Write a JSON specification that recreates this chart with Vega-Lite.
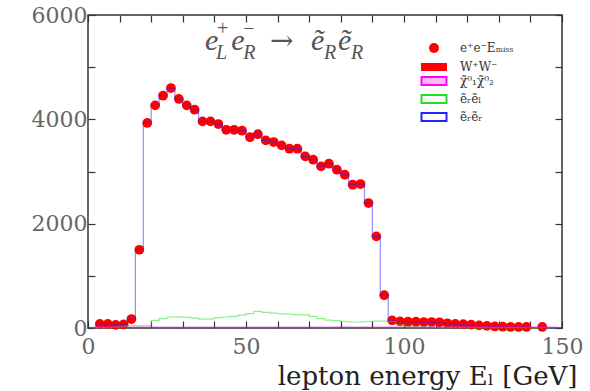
{
  "$schema": "https://vega.github.io/schema/vega-lite/v6.json",
  "autosize": "none",
  "width": 474,
  "height": 313,
  "padding": {"left": 88, "top": 15, "right": 28, "bottom": 63},
  "background": "white",
  "config": {
    "view": {"stroke": "#333", "strokeWidth": 1.5},
    "axis": {"domain": false, "grid": false, "ticks": true, "tickColor": "#333", "tickSize": -7, "tickWidth": 1.2,
      "labelFont": "DejaVu Serif", "labelFontSize": 22, "labelColor": "#666", "labelFlush": false, "labelOverlap": false}
  },
  "resolve": {"axis": {"x": "independent", "y": "independent"}},
  "layer": [
    {
      "data": {"values": [
        {"E": 3.75, "N": 80}, {"E": 6.25, "N": 80}, {"E": 8.75, "N": 60}, {"E": 11.25, "N": 70}, {"E": 13.75, "N": 172},
        {"E": 16.25, "N": 1500}, {"E": 18.75, "N": 3930}, {"E": 21.25, "N": 4267}, {"E": 23.75, "N": 4453}, {"E": 26.25, "N": 4600},
        {"E": 28.75, "N": 4390}, {"E": 31.25, "N": 4267}, {"E": 33.75, "N": 4184}, {"E": 36.25, "N": 3960}, {"E": 38.75, "N": 3960},
        {"E": 41.25, "N": 3910}, {"E": 43.75, "N": 3800}, {"E": 46.25, "N": 3800}, {"E": 48.75, "N": 3782}, {"E": 51.25, "N": 3657},
        {"E": 53.75, "N": 3715}, {"E": 56.25, "N": 3596}, {"E": 58.75, "N": 3565}, {"E": 61.25, "N": 3500}, {"E": 63.75, "N": 3437},
        {"E": 66.25, "N": 3437}, {"E": 68.75, "N": 3289}, {"E": 71.25, "N": 3226}, {"E": 73.75, "N": 3098}, {"E": 76.25, "N": 3149},
        {"E": 78.75, "N": 3034}, {"E": 81.25, "N": 2938}, {"E": 83.75, "N": 2747}, {"E": 86.25, "N": 2760}, {"E": 88.75, "N": 2396},
        {"E": 91.25, "N": 1756}, {"E": 93.75, "N": 629}, {"E": 96.25, "N": 146}, {"E": 98.75, "N": 127}, {"E": 101.25, "N": 121},
        {"E": 103.75, "N": 121}, {"E": 106.25, "N": 115}, {"E": 108.75, "N": 115}, {"E": 111.25, "N": 110}, {"E": 113.75, "N": 90},
        {"E": 116.25, "N": 80}, {"E": 118.75, "N": 75}, {"E": 121.25, "N": 65}, {"E": 123.75, "N": 50}, {"E": 126.25, "N": 40},
        {"E": 128.75, "N": 30}, {"E": 131.25, "N": 25}, {"E": 133.75, "N": 20}, {"E": 136.25, "N": 20}, {"E": 138.75, "N": 20},
        {"E": 143.75, "N": 20}
      ]},
      "transform": [{"calculate": "'e⁺e⁻Eₘᵢₛₛ'", "as": "series"}],
      "mark": {"type": "point", "filled": true, "size": 95, "opacity": 1},
      "encoding": {
        "x": {"field": "E", "type": "quantitative", "scale": {"domain": [0, 150], "nice": false},
          "axis": {"orient": "bottom", "values": [0,10,20,30,40,50,60,70,80,90,100,110,120,130,140,150],
            "labelExpr": "datum.value % 50 == 0 ? datum.label : ''", "labelPadding": 15,
            "title": "lepton energy Eₗ  [GeV]", "titleFont": "DejaVu Serif", "titleFontSize": 26, "titleFontWeight": "normal",
            "titleColor": "#222", "titleX": 489, "titleY": 56, "titleAlign": "right", "titleBaseline": "alphabetic", "titleAngle": 0}},
        "y": {"field": "N", "type": "quantitative", "scale": {"domain": [0, 6000], "nice": false},
          "axis": {"orient": "left", "values": [0,1000,2000,3000,4000,5000,6000], "format": "d",
            "labelExpr": "datum.value % 2000 == 0 ? datum.label : ''", "labelPadding": 8, "title": null}},
        "fill": {"field": "series", "type": "nominal",
          "scale": {"domain": ["e⁺e⁻Eₘᵢₛₛ", "W⁺W⁻"], "range": ["#ff0000", "#ff0000"]},
          "legend": {"title": null, "orient": "none", "legendX": 340, "legendY": 27, "padding": 0, "symbolSize": 100,
            "labelFont": "DejaVu Serif", "labelFontSize": 12, "labelColor": "#333", "labelOffset": 20, "rowPadding": 4}},
        "shape": {"field": "series", "type": "nominal",
          "scale": {"domain": ["e⁺e⁻Eₘᵢₛₛ", "W⁺W⁻"], "range": ["circle", "M-2.6,-0.8H2.6V0.8H-2.6Z"]},
          "legend": {"title": null, "orient": "none", "legendX": 340, "legendY": 27, "padding": 0, "symbolSize": 100,
            "labelFont": "DejaVu Serif", "labelFontSize": 12, "labelColor": "#333", "labelOffset": 20, "rowPadding": 4}}
      }
    },
    {
      "data": {"values": [
        {"series": "ẽᵣẽᵣ", "E": 1.25, "N": 0}, {"series": "ẽᵣẽᵣ", "E": 3.75, "N": 80}, {"series": "ẽᵣẽᵣ", "E": 6.25, "N": 80},
        {"series": "ẽᵣẽᵣ", "E": 8.75, "N": 60}, {"series": "ẽᵣẽᵣ", "E": 11.25, "N": 70}, {"series": "ẽᵣẽᵣ", "E": 13.75, "N": 172},
        {"series": "ẽᵣẽᵣ", "E": 16.25, "N": 1500}, {"series": "ẽᵣẽᵣ", "E": 18.75, "N": 3930}, {"series": "ẽᵣẽᵣ", "E": 21.25, "N": 4267},
        {"series": "ẽᵣẽᵣ", "E": 23.75, "N": 4453}, {"series": "ẽᵣẽᵣ", "E": 26.25, "N": 4600}, {"series": "ẽᵣẽᵣ", "E": 28.75, "N": 4390},
        {"series": "ẽᵣẽᵣ", "E": 31.25, "N": 4267}, {"series": "ẽᵣẽᵣ", "E": 33.75, "N": 4184}, {"series": "ẽᵣẽᵣ", "E": 36.25, "N": 3960},
        {"series": "ẽᵣẽᵣ", "E": 38.75, "N": 3960}, {"series": "ẽᵣẽᵣ", "E": 41.25, "N": 3910}, {"series": "ẽᵣẽᵣ", "E": 43.75, "N": 3800},
        {"series": "ẽᵣẽᵣ", "E": 46.25, "N": 3800}, {"series": "ẽᵣẽᵣ", "E": 48.75, "N": 3782}, {"series": "ẽᵣẽᵣ", "E": 51.25, "N": 3657},
        {"series": "ẽᵣẽᵣ", "E": 53.75, "N": 3715}, {"series": "ẽᵣẽᵣ", "E": 56.25, "N": 3596}, {"series": "ẽᵣẽᵣ", "E": 58.75, "N": 3565},
        {"series": "ẽᵣẽᵣ", "E": 61.25, "N": 3500}, {"series": "ẽᵣẽᵣ", "E": 63.75, "N": 3437}, {"series": "ẽᵣẽᵣ", "E": 66.25, "N": 3437},
        {"series": "ẽᵣẽᵣ", "E": 68.75, "N": 3289}, {"series": "ẽᵣẽᵣ", "E": 71.25, "N": 3226}, {"series": "ẽᵣẽᵣ", "E": 73.75, "N": 3098},
        {"series": "ẽᵣẽᵣ", "E": 76.25, "N": 3149}, {"series": "ẽᵣẽᵣ", "E": 78.75, "N": 3034}, {"series": "ẽᵣẽᵣ", "E": 81.25, "N": 2938},
        {"series": "ẽᵣẽᵣ", "E": 83.75, "N": 2747}, {"series": "ẽᵣẽᵣ", "E": 86.25, "N": 2760}, {"series": "ẽᵣẽᵣ", "E": 88.75, "N": 2396},
        {"series": "ẽᵣẽᵣ", "E": 91.25, "N": 1756}, {"series": "ẽᵣẽᵣ", "E": 93.75, "N": 629}, {"series": "ẽᵣẽᵣ", "E": 96.25, "N": 140},
        {"series": "ẽᵣẽᵣ", "E": 98.75, "N": 120}, {"series": "ẽᵣẽᵣ", "E": 101.25, "N": 115}, {"series": "ẽᵣẽᵣ", "E": 103.75, "N": 115},
        {"series": "ẽᵣẽᵣ", "E": 106.25, "N": 110}, {"series": "ẽᵣẽᵣ", "E": 108.75, "N": 108}, {"series": "ẽᵣẽᵣ", "E": 111.25, "N": 100},
        {"series": "ẽᵣẽᵣ", "E": 113.75, "N": 80}, {"series": "ẽᵣẽᵣ", "E": 116.25, "N": 72}, {"series": "ẽᵣẽᵣ", "E": 118.75, "N": 66},
        {"series": "ẽᵣẽᵣ", "E": 121.25, "N": 55}, {"series": "ẽᵣẽᵣ", "E": 123.75, "N": 42}, {"series": "ẽᵣẽᵣ", "E": 126.25, "N": 33},
        {"series": "ẽᵣẽᵣ", "E": 128.75, "N": 25}, {"series": "ẽᵣẽᵣ", "E": 131.25, "N": 20}, {"series": "ẽᵣẽᵣ", "E": 133.75, "N": 15},
        {"series": "ẽᵣẽᵣ", "E": 136.25, "N": 15}, {"series": "ẽᵣẽᵣ", "E": 138.75, "N": 15}, {"series": "ẽᵣẽᵣ", "E": 141.25, "N": 10},
        {"series": "ẽᵣẽᵣ", "E": 143.75, "N": 15}, {"series": "ẽᵣẽᵣ", "E": 146.25, "N": 0}, {"series": "ẽᵣẽᵣ", "E": 148.75, "N": 0},
        {"series": "ẽᵣẽₗ", "E": 1.25, "N": 0}, {"series": "ẽᵣẽₗ", "E": 3.75, "N": 10}, {"series": "ẽᵣẽₗ", "E": 6.25, "N": 10},
        {"series": "ẽᵣẽₗ", "E": 8.75, "N": 15}, {"series": "ẽᵣẽₗ", "E": 11.25, "N": 30}, {"series": "ẽᵣẽₗ", "E": 13.75, "N": 40},
        {"series": "ẽᵣẽₗ", "E": 16.25, "N": 40}, {"series": "ẽᵣẽₗ", "E": 18.75, "N": 45}, {"series": "ẽᵣẽₗ", "E": 21.25, "N": 146},
        {"series": "ẽᵣẽₗ", "E": 23.75, "N": 180}, {"series": "ẽᵣẽₗ", "E": 26.25, "N": 211}, {"series": "ẽᵣẽₗ", "E": 28.75, "N": 215},
        {"series": "ẽᵣẽₗ", "E": 31.25, "N": 205}, {"series": "ẽᵣẽₗ", "E": 33.75, "N": 190}, {"series": "ẽᵣẽₗ", "E": 36.25, "N": 172},
        {"series": "ẽᵣẽₗ", "E": 38.75, "N": 175}, {"series": "ẽᵣẽₗ", "E": 41.25, "N": 200}, {"series": "ẽᵣẽₗ", "E": 43.75, "N": 211},
        {"series": "ẽᵣẽₗ", "E": 46.25, "N": 224}, {"series": "ẽᵣẽₗ", "E": 48.75, "N": 245}, {"series": "ẽᵣẽₗ", "E": 51.25, "N": 275},
        {"series": "ẽᵣẽₗ", "E": 53.75, "N": 318}, {"series": "ẽᵣẽₗ", "E": 56.25, "N": 300}, {"series": "ẽᵣẽₗ", "E": 58.75, "N": 285},
        {"series": "ẽᵣẽₗ", "E": 61.25, "N": 270}, {"series": "ẽᵣẽₗ", "E": 63.75, "N": 265}, {"series": "ẽᵣẽₗ", "E": 66.25, "N": 258},
        {"series": "ẽᵣẽₗ", "E": 68.75, "N": 250}, {"series": "ẽᵣẽₗ", "E": 71.25, "N": 222}, {"series": "ẽᵣẽₗ", "E": 73.75, "N": 180},
        {"series": "ẽᵣẽₗ", "E": 76.25, "N": 150}, {"series": "ẽᵣẽₗ", "E": 78.75, "N": 140}, {"series": "ẽᵣẽₗ", "E": 81.25, "N": 125},
        {"series": "ẽᵣẽₗ", "E": 83.75, "N": 115}, {"series": "ẽᵣẽₗ", "E": 86.25, "N": 115}, {"series": "ẽᵣẽₗ", "E": 88.75, "N": 125},
        {"series": "ẽᵣẽₗ", "E": 91.25, "N": 130}, {"series": "ẽᵣẽₗ", "E": 93.75, "N": 130}, {"series": "ẽᵣẽₗ", "E": 96.25, "N": 125},
        {"series": "ẽᵣẽₗ", "E": 98.75, "N": 60}, {"series": "ẽᵣẽₗ", "E": 101.25, "N": 30}, {"series": "ẽᵣẽₗ", "E": 103.75, "N": 20},
        {"series": "ẽᵣẽₗ", "E": 113.75, "N": 12}, {"series": "ẽᵣẽₗ", "E": 126.25, "N": 8}, {"series": "ẽᵣẽₗ", "E": 148.75, "N": 5},
        {"series": "χ̃⁰₁χ̃⁰₂", "E": 1.25, "N": 15}, {"series": "χ̃⁰₁χ̃⁰₂", "E": 51.25, "N": 15}, {"series": "χ̃⁰₁χ̃⁰₂", "E": 101.25, "N": 15},
        {"series": "χ̃⁰₁χ̃⁰₂", "E": 148.75, "N": 15}
      ]},
      "mark": {"type": "line", "interpolate": "step", "strokeWidth": 1.2, "strokeOpacity": 0.5},
      "encoding": {
        "x": {"field": "E", "type": "quantitative", "scale": {"domain": [0, 150], "nice": false},
          "axis": {"orient": "top", "values": [0,10,20,30,40,50,60,70,80,90,100,110,120,130,140,150], "labels": false, "title": null}},
        "y": {"field": "N", "type": "quantitative", "scale": {"domain": [0, 6000], "nice": false},
          "axis": {"orient": "right", "values": [0,1000,2000,3000,4000,5000,6000], "labels": false, "title": null}},
        "stroke": {"field": "series", "type": "nominal",
          "scale": {"domain": ["χ̃⁰₁χ̃⁰₂", "ẽᵣẽₗ", "ẽᵣẽᵣ"], "range": ["#ff00ff", "#22dd22", "#2222ff"]},
          "legend": {"title": null, "orient": "none", "legendX": 340, "legendY": 60, "padding": 0, "symbolSize": 100,
            "symbolType": "M-2.5,-0.8H2.5V0.8H-2.5Z", "symbolStrokeWidth": 2, "symbolOpacity": 1,
            "labelFont": "DejaVu Serif", "labelFontSize": 12, "labelColor": "#333", "labelOffset": 20, "rowPadding": 2,
            "encode": {"symbols": {"update": {"strokeOpacity": {"value": 1},
              "fill": {"signal": "datum.value === 'χ̃⁰₁χ̃⁰₂' ? '#ffb8f0' : 'transparent'"}}}}}}
      }
    },
    {"data": {"values": [{}]}, "mark": {"type": "text", "text": "e", "font": "Liberation Serif", "fontStyle": "italic", "fontSize": 30, "align": "left", "baseline": "alphabetic", "color": "#555"},
      "encoding": {"x": {"datum": 37.0, "type": "quantitative", "axis": null}, "y": {"datum": 5335, "type": "quantitative", "axis": null}}},
    {"data": {"values": [{}]}, "mark": {"type": "text", "text": "+", "font": "Liberation Serif", "fontSize": 20, "align": "left", "baseline": "alphabetic", "color": "#555"},
      "encoding": {"x": {"datum": 40.8, "type": "quantitative", "axis": null}, "y": {"datum": 5620, "type": "quantitative", "axis": null}}},
    {"data": {"values": [{}]}, "mark": {"type": "text", "text": "L", "font": "Liberation Serif", "fontStyle": "italic", "fontSize": 20, "align": "left", "baseline": "alphabetic", "color": "#555"},
      "encoding": {"x": {"datum": 40.5, "type": "quantitative", "axis": null}, "y": {"datum": 5160, "type": "quantitative", "axis": null}}},
    {"data": {"values": [{}]}, "mark": {"type": "text", "text": "e", "font": "Liberation Serif", "fontStyle": "italic", "fontSize": 30, "align": "left", "baseline": "alphabetic", "color": "#555"},
      "encoding": {"x": {"datum": 45.3, "type": "quantitative", "axis": null}, "y": {"datum": 5335, "type": "quantitative", "axis": null}}},
    {"data": {"values": [{}]}, "mark": {"type": "text", "text": "−", "font": "Liberation Serif", "fontSize": 20, "align": "left", "baseline": "alphabetic", "color": "#555"},
      "encoding": {"x": {"datum": 49.1, "type": "quantitative", "axis": null}, "y": {"datum": 5620, "type": "quantitative", "axis": null}}},
    {"data": {"values": [{}]}, "mark": {"type": "text", "text": "R", "font": "Liberation Serif", "fontStyle": "italic", "fontSize": 20, "align": "left", "baseline": "alphabetic", "color": "#555"},
      "encoding": {"x": {"datum": 49.1, "type": "quantitative", "axis": null}, "y": {"datum": 5160, "type": "quantitative", "axis": null}}},
    {"data": {"values": [{}]}, "mark": {"type": "text", "text": "→", "font": "DejaVu Serif", "fontSize": 28, "align": "left", "baseline": "alphabetic", "color": "#555"},
      "encoding": {"x": {"datum": 57.6, "type": "quantitative", "axis": null}, "y": {"datum": 5335, "type": "quantitative", "axis": null}}},
    {"data": {"values": [{}]}, "mark": {"type": "text", "text": "ẽ", "font": "Liberation Serif", "fontStyle": "italic", "fontSize": 30, "align": "left", "baseline": "alphabetic", "color": "#555"},
      "encoding": {"x": {"datum": 70.6, "type": "quantitative", "axis": null}, "y": {"datum": 5335, "type": "quantitative", "axis": null}}},
    {"data": {"values": [{}]}, "mark": {"type": "text", "text": "R", "font": "Liberation Serif", "fontStyle": "italic", "fontSize": 20, "align": "left", "baseline": "alphabetic", "color": "#555"},
      "encoding": {"x": {"datum": 74.7, "type": "quantitative", "axis": null}, "y": {"datum": 5160, "type": "quantitative", "axis": null}}},
    {"data": {"values": [{}]}, "mark": {"type": "text", "text": "ẽ", "font": "Liberation Serif", "fontStyle": "italic", "fontSize": 30, "align": "left", "baseline": "alphabetic", "color": "#555"},
      "encoding": {"x": {"datum": 79.1, "type": "quantitative", "axis": null}, "y": {"datum": 5335, "type": "quantitative", "axis": null}}},
    {"data": {"values": [{}]}, "mark": {"type": "text", "text": "R", "font": "Liberation Serif", "fontStyle": "italic", "fontSize": 20, "align": "left", "baseline": "alphabetic", "color": "#555"},
      "encoding": {"x": {"datum": 83.2, "type": "quantitative", "axis": null}, "y": {"datum": 5160, "type": "quantitative", "axis": null}}}
  ]
}
